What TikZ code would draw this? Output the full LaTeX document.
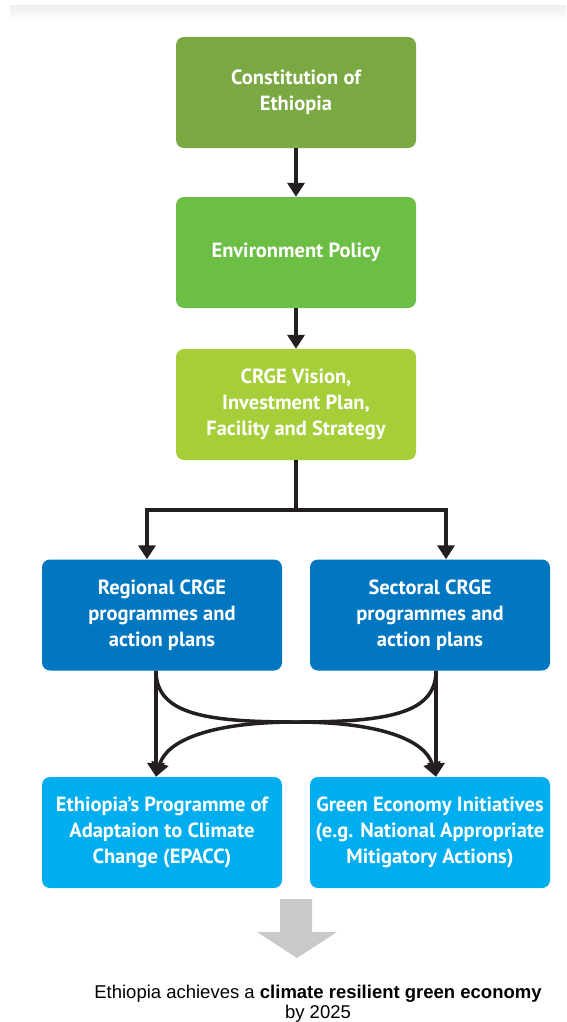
\documentclass[tikz,border=0pt]{standalone}
\usepackage{fontspec}
\setmainfont{Liberation Sans}
\newfontfamily\boxfont{PT Sans}
\usepackage{tikz}
\usetikzlibrary{arrows.meta}
\usepackage{xcolor}
\definecolor{OliveLeaf}{HTML}{7AA843}
\definecolor{FernGreen}{HTML}{6DBE45}
\definecolor{LimeLeaf}{HTML}{A6CE39}
\definecolor{OceanBlue}{HTML}{0077C0}
\definecolor{SkyBlue}{HTML}{00AEEF}
\definecolor{Ink}{HTML}{231F20}
\definecolor{Ash}{HTML}{C8C9CA}

\begin{document}
\begin{tikzpicture}[x=1pt,y=-1pt,
    stage/.style={rounded corners=8pt,minimum width=240pt,minimum height=111pt,
      inner sep=0pt,text=white,align=center,
      font=\boxfont\bfseries\fontsize{20.5}{26}\selectfont},
    flow/.style={draw=Ink,line width=3.5pt,-{Triangle[width=17pt,length=14pt]}},
    wire/.style={draw=Ink,line width=3.5pt}]
     \useasboundingbox (0,0) rectangle (566,1022);
     \shade[top color=black!6,bottom color=white] (10,6) rectangle (566,20);

     \node[stage,fill=OliveLeaf] (constitution) at (296,92.5) {Constitution of\\Ethiopia};
     \node[stage,fill=FernGreen] (policy) at (296,252.5) {Environment Policy};
     \node[stage,fill=LimeLeaf] (vision) at (296,404.5) {CRGE Vision,\\Investment Plan,\\Facility and Strategy};

     \node[stage,fill=OceanBlue] (regional) at (162,615) {Regional CRGE\\programmes and\\action plans};
     \node[stage,fill=OceanBlue] (sectoral) at (430,615) {Sectoral CRGE\\programmes and\\action plans};

     \node[stage,fill=SkyBlue] (epacc) at (162,832.5) {Ethiopia’s Programme of\\Adaptaion to Climate\\Change (EPACC)};
     \node[stage,fill=SkyBlue] (green) at (430,832.5) {Green Economy Initiatives\\(e.g. National Appropriate\\Mitigatory Actions)};

     \draw[flow] (constitution) -- (policy);
     \draw[flow] (policy) -- (vision);

     \coordinate (split) at (296,510);
     \draw[wire] (vision.south) -- (split);
     \draw[flow] (split) -| ([xshift=-15pt]regional.north);
     \draw[flow] (split) -| ([xshift=16pt]sectoral.north);

     \coordinate (rout) at ([xshift=-6pt]regional.south);
     \coordinate (sout) at ([xshift=6pt]sectoral.south);
     \coordinate (ein) at ([xshift=-6pt]epacc.north);
     \coordinate (gin) at ([xshift=6pt]green.north);
     \coordinate (cross) at (296,722);
     \draw[flow] (rout) -- (ein);
     \draw[flow] (sout) -- (gin);
     \draw[flow] (rout) .. controls (156,714) and (205,722) .. (cross)
                        .. controls (380,722) and (425,740) .. (gin);
     \draw[flow] (sout) .. controls (436,714) and (387,722) .. (cross)
                        .. controls (212,722) and (167,740) .. (ein);

     \fill[Ash] (280,899) -- (312,899) -- (312,932) -- (337,932) -- (297,958)
                -- (257,932) -- (280,932) -- cycle;

     \node[align=center,font=\fontsize{18.5}{20}\selectfont] (goal) at (318,1004)
          {Ethiopia achieves a \textbf{climate resilient green economy}\\by 2025};
    \end{tikzpicture}
\end{document}
